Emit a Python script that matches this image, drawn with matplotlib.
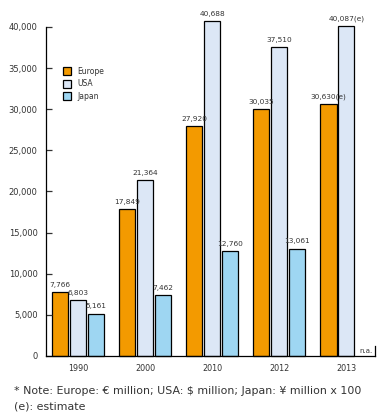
import numpy as np
import matplotlib.pyplot as plt
from matplotlib.patches import Patch

# Dados
anos = ["1990", "2000", "2010", "2012", "2013"]
europe = [7766, 17849, 27920, 30035, 30630]
usa = [6803, 21364, 40688, 37510, 40087]
japan = [5161, 7462, 12760, 13061, None]
rot_europe = ["7,766", "17,849", "27,920", "30,035", "30,630(e)"]
rot_usa = ["6,803", "21,364", "40,688", "37,510", "40,087(e)"]
rot_japan = ["5,161", "7,462", "12,760", "13,061", "n.a."]

cor_eu = "#F39A00"
cor_us = "#DCE7F6"
cor_jp = "#9ED6F2"
txt = "#333333"

fig = plt.figure(figsize=(3.89, 4.17), dpi=100)
ax = fig.add_axes([0.1183, 0.1463, 0.846, 0.789])

x = np.arange(len(anos))
w = 0.245
off = 0.268

def barras(xs, vals, cor, rots):
    for xi, v, r in zip(xs, vals, rots):
        if v is None:
            ax.text(xi + 0.02, 300, r, ha="center", va="bottom", fontsize=5, color=txt)
            continue
        ax.bar(xi, v, width=w, color=cor, edgecolor="black", linewidth=0.9, clip_on=False)
        ax.text(xi, v + 500, r, ha="center", va="bottom", fontsize=5.3, color=txt)

barras(x - off, europe, cor_eu, rot_europe)
barras(x, usa, cor_us, rot_usa)
barras(x + off, japan, cor_jp, rot_japan)

ax.set_xlim(-0.478, 4.43)
ax.set_ylim(0, 40000)
ax.set_yticks(range(0, 40001, 5000))
ax.set_yticklabels([f"{v:,}" for v in range(0, 40001, 5000)])
ax.set_xticks(x)
ax.set_xticklabels(anos)
ax.tick_params(axis="y", direction="in", length=4, width=0.9, labelsize=6, colors=txt, pad=6)
ax.tick_params(axis="x", length=0, labelsize=5.8, colors=txt, pad=6)
for s in ["top", "right"]:
    ax.spines[s].set_visible(False)
for s in ["left", "bottom"]:
    ax.spines[s].set_linewidth(0.9)
ax.axvline(4.43, 0, 0.03, color="black", linewidth=0.9, clip_on=False)

handles = [Patch(facecolor=c, edgecolor="black", linewidth=0.9, label=n)
           for c, n in zip([cor_eu, cor_us, cor_jp], ["Europe", "USA", "Japan"])]
ax.legend(handles=handles, loc="upper left", bbox_to_anchor=(0.03, 0.9), frameon=False,
          fontsize=5.5, handlelength=1.1, handleheight=1.2, labelspacing=0.45,
          handletextpad=0.8, labelcolor=txt)

fig.text(0.035, 0.055, "* Note: Europe: \u20ac million; USA: $ million; Japan: \u00a5 million x 100",
         fontsize=7.9, color=txt)
fig.text(0.035, 0.019, "(e): estimate", fontsize=7.9, color=txt)

fig.savefig("out.png", dpi=100)
